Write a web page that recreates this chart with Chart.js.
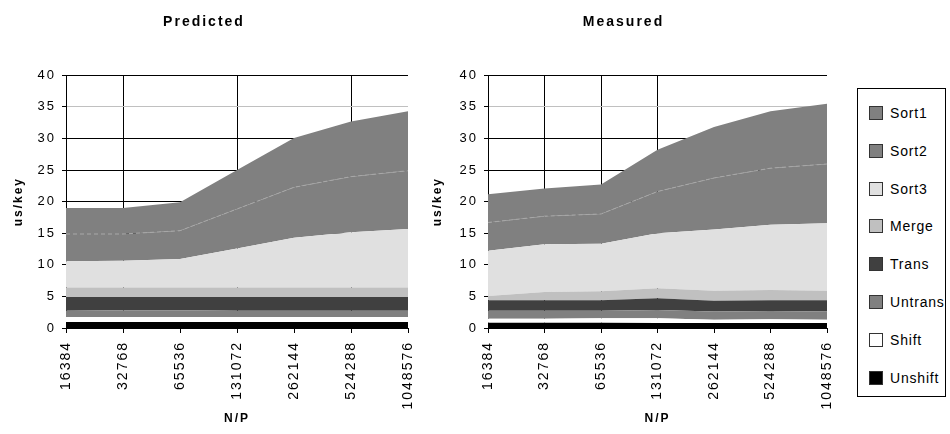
<!DOCTYPE html>
<html>
<head>
<meta charset="utf-8">
<script src="https://cdn.jsdelivr.net/npm/chart.js@4.4.0/dist/chart.umd.min.js"></script>
<style>
  body { margin: 0; background: #fff; }
  #wrap { position: relative; width: 950px; height: 434px; font-family: "Liberation Sans", Arial, sans-serif; }
  #c1 { position: absolute; left: 0; top: 0; }
  #c2 { position: absolute; left: 420px; top: 0; }
  #legend { position: absolute; left: 857px; top: 88px; width: 89px; height: 309px; border: 1px solid #000; box-sizing: border-box; }
  .item { position: absolute; left: 11px; height: 16px; line-height: 16px; font-size: 14px; letter-spacing: 0.8px; color: #000; white-space: nowrap; }
  .sw { display: inline-block; width: 14px; height: 14px; border: 1px solid #333; box-sizing: border-box; vertical-align: -2px; margin-right: 7px; }
</style>
</head>
<body>
<div id="wrap">
  <canvas id="c1" width="420" height="434"></canvas>
  <canvas id="c2" width="420" height="434"></canvas>
  <div id="legend"></div>
</div>
<script>
const categories = ["16384", "32768", "65536", "131072", "262144", "524288", "1048576"];

// stacked from the bottom up
const seriesNames = ["Unshift", "Shift", "Untrans", "Trans", "Merge", "Sort3", "Sort2", "Sort1"];
const seriesColors = ["#000000", "#ffffff", "#808080", "#404040", "#c0c0c0", "#e0e0e0", "#808080", "#808080"];

// Predicted, us/key per phase
const predUnshift = [0.95, 0.95, 0.95, 0.95, 0.95, 0.95, 0.95];
const predShift   = [0.8, 0.8, 0.8, 0.8, 0.8, 0.8, 0.8];
const predUntrans = [1.0, 1.05, 1.05, 1.0, 1.0, 1.0, 1.0];
const predTrans   = [2.17, 2.12, 2.12, 2.17, 2.17, 2.17, 2.17];
const predMerge   = [1.48, 1.5, 1.5, 1.5, 1.5, 1.5, 1.5];
const predSort3   = [4.15, 4.24, 4.5, 6.18, 7.88, 8.73, 9.25];
const predSort2   = [4.33, 4.22, 4.48, 6.24, 7.97, 8.81, 9.23];
const predSort1   = [4.12, 4.12, 4.5, 6.16, 7.81, 8.74, 9.4];

// Measured, us/key per phase
const measUnshift = [0.85, 0.85, 0.85, 0.8, 0.8, 0.8, 0.8];
const measShift   = [0.6, 0.6, 0.68, 0.73, 0.5, 0.58, 0.5];
const measUntrans = [1.3, 1.3, 1.22, 1.32, 1.3, 1.32, 1.3];
const measTrans   = [1.65, 1.65, 1.65, 1.85, 1.7, 1.7, 1.8];
const measMerge   = [0.68, 1.3, 1.4, 1.6, 1.6, 1.6, 1.5];
const measSort3   = [7.16, 7.55, 7.55, 8.7, 9.7, 10.36, 10.67];
const measSort2   = [4.46, 4.45, 4.7, 6.6, 8.15, 8.94, 9.39];
const measSort1   = [4.46, 4.4, 4.65, 6.6, 8.05, 9.0, 9.54];

const yMin = 0, yMax = 40, yStep = 5;

Chart.defaults.color = "#000";
Chart.defaults.font.family = '"Liberation Sans", Arial, sans-serif';

// Excel-like wide glyph spacing
const spacing = {
  id: "spacing",
  beforeUpdate(chart) { chart.ctx.letterSpacing = "2px"; },
  beforeDraw(chart) { chart.ctx.letterSpacing = "2px"; }
};

function makeDatasets(values) {
  return values.map((v, i) => ({
    label: seriesNames[i],
    data: v,
    backgroundColor: seriesColors[i],
    borderColor: seriesNames[i] == "Sort2" ? "#a8a8a8" : "rgba(0,0,0,0)",
    borderWidth: seriesNames[i] == "Sort2" ? 1 : 0,
    borderDash: [4, 3],
    pointRadius: 0,
    tension: 0,
    fill: i == 0 ? "origin" : "-1"
  }));
}

function makeChart(id, title, values, vLines, yWidth, yTitlePad, padRight) {
  return new Chart(document.getElementById(id), {
    type: "line",
    data: { labels: categories, datasets: makeDatasets(values) },
    plugins: [spacing],
    options: {
      responsive: false,
      animation: false,
      layout: { padding: { left: 0, right: padRight, top: 0, bottom: 0 } },
      plugins: {
        legend: { display: false },
        tooltip: { enabled: false },
        title: {
          display: true,
          text: title,
          font: { size: 14, weight: "bold" },
          padding: { top: 14, bottom: 44.5 }
        }
      },
      scales: {
        x: {
          grid: {
            color: (c) => vLines.includes(c.index) ? "#000" : "rgba(0,0,0,0)",
            tickColor: "#000",
            tickLength: 5
          },
          border: { color: "#000" },
          ticks: { minRotation: 90, maxRotation: 90, autoSkip: false, padding: 8, font: { size: 14 } },
          title: { display: true, text: "N/P", font: { size: 12, weight: "bold" }, padding: { top: 0, bottom: 8 } },
          afterFit: (s) => { s.height = 106; s.paddingLeft = 0; s.paddingRight = 0; }
        },
        y: {
          stacked: true,
          min: yMin,
          max: yMax,
          ticks: { stepSize: yStep, padding: 6, font: { size: 13 } },
          grid: {
            color: (c) => c.tick.value == 35 ? "#c0c0c0" : "#000",
            tickColor: "#000",
            tickLength: 4
          },
          border: { color: "#000" },
          title: { display: true, text: "us/key", font: { size: 12, weight: "bold" }, padding: { top: yTitlePad, bottom: 0 } },
          afterFit: (s) => { s.width = yWidth; }
        }
      }
    }
  });
}

makeChart("c1", "Predicted",
  [predUnshift, predShift, predUntrans, predTrans, predMerge, predSort3, predSort2, predSort1],
  [1, 3, 5], 66, 11, 12);

makeChart("c2", "Measured",
  [measUnshift, measShift, measUntrans, measTrans, measMerge, measSort3, measSort2, measSort1],
  [1, 2, 3], 68, 10, 13);

// legend, top series first
const legend = document.getElementById("legend");
for (let k = 0; k < seriesNames.length; k++) {
  const i = seriesNames.length - 1 - k;
  const item = document.createElement("div");
  item.className = "item";
  item.style.top = (16 + k * 37.8) + "px";
  const sw = document.createElement("span");
  sw.className = "sw";
  sw.style.background = seriesColors[i];
  item.appendChild(sw);
  item.appendChild(document.createTextNode(seriesNames[i]));
  legend.appendChild(item);
}
</script>
</body>
</html>
